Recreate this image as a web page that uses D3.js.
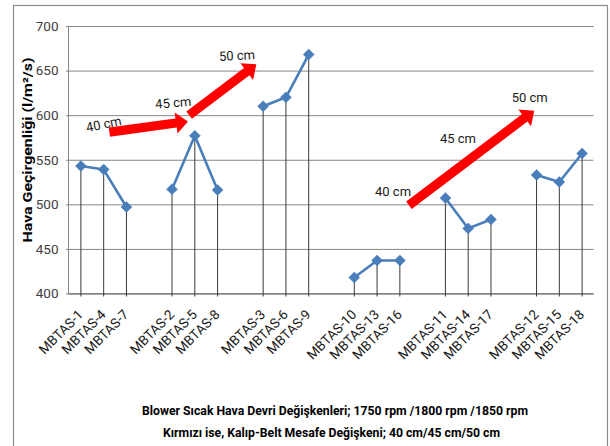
<!DOCTYPE html>
<html>
<head>
<meta charset="utf-8">
<script src="https://cdn.jsdelivr.net/npm/d3@7"></script>
<style>
  html, body { margin: 0; padding: 0; background: #fff; }
  svg { display: block; }
  text { font-family: Roboto, "Noto Sans", sans-serif; }
</style>
</head>
<body>
<svg id="chart" width="610" height="446"></svg>
<script>
// Sample groups (blank entries separate the blower-speed groups)
const categories = [
  "MBTAS-1", "MBTAS-4", "MBTAS-7", "",
  "MBTAS-2", "MBTAS-5", "MBTAS-8", "",
  "MBTAS-3", "MBTAS-6", "MBTAS-9", "",
  "MBTAS-10", "MBTAS-13", "MBTAS-16", "",
  "MBTAS-11", "MBTAS-14", "MBTAS-17", "",
  "MBTAS-12", "MBTAS-15", "MBTAS-18"
];
// Air permeability, l/m²/s
const permeability = [
  543, 539, 497, null,
  517, 577, 516, null,
  610, 620, 668, null,
  418, 437, 437, null,
  507, 473, 483, null,
  533, 525, 557
];
const yTicks = [400, 450, 500, 550, 600, 650, 700];

// Mould-belt distance arrows: [slot, value] from -> to
const distanceArrows = [
  { from: [1.25, 581], to: [4.70, 593] },
  { from: [4.75, 600], to: [7.70, 657] },
  { from: [14.4, 499], to: [19.9, 605] }
];
const distanceLabels = [
  { text: "40 cm", at: [1.0, 590], angle: -12 },
  { text: "45 cm", at: [4.05, 614], angle: -5 },
  { text: "50 cm", at: [6.85, 667], angle: -3 },
  { text: "40 cm", at: [13.7, 515], angle: 0 },
  { text: "45 cm", at: [16.55, 574], angle: 0 },
  { text: "50 cm", at: [19.7, 620], angle: 0 }
];

const yTitle = "Hava Geçirgenliği (l/m²/s)";
const xTitle = [
  "Blower Sıcak Hava Devri Değişkenleri; 1750 rpm /1800 rpm /1850 rpm",
  "Kırmızı ise, Kalıp-Belt Mesafe Değişkeni; 40 cm/45 cm/50 cm"
];

const svg = d3.select("#chart");
const plot = { left: 69.5, right: 593.5, top: 26, bottom: 293.5 };

const x = d3.scaleBand()
  .domain(d3.range(categories.length))
  .range([plot.left, plot.right])
  .padding(0);
const xc = i => x(i) + x.bandwidth() / 2;
// continuous slot scale for annotations
const xs = d3.scaleLinear()
  .domain([-0.5, categories.length - 0.5])
  .range([plot.left, plot.right]);
const y = d3.scaleLinear().domain([400, 700]).range([plot.bottom, plot.top]);

// outer frame
svg.append("rect")
  .attr("x", 13.5).attr("y", 5.5)
  .attr("width", 594).attr("height", 460)
  .attr("fill", "none").attr("stroke", "#8a8a8a").attr("stroke-width", 1.2);

// gridlines + y axis
const yAxis = d3.axisLeft(y)
  .tickValues(yTicks)
  .tickSize(-(plot.right - 68))
  .tickFormat(d3.format("d"));
const gy = svg.append("g").attr("transform", "translate(68,0)").call(yAxis);
gy.select(".domain").attr("stroke", "#868686");
gy.selectAll(".tick line").attr("stroke", "#868686").attr("x1", -2);
gy.selectAll(".tick text")
  .attr("font-size", 13.5).attr("fill", "#404040")
  .attr("x", -9.5);

// x axis baseline
svg.append("line")
  .attr("x1", 68).attr("x2", plot.right)
  .attr("y1", plot.bottom).attr("y2", plot.bottom)
  .attr("stroke", "#868686");

const points = permeability.map((v, i) => ({ i, v })).filter(d => d.v != null);

// drop lines
svg.append("g").selectAll("line").data(points).join("line")
  .attr("x1", d => xc(d.i)).attr("x2", d => xc(d.i))
  .attr("y1", d => y(d.v)).attr("y2", plot.bottom + 3)
  .attr("stroke", "#3a3a3a").attr("stroke-width", 1);

// series line, broken at the blank slots
const line = d3.line()
  .defined(d => d != null)
  .x((d, i) => xc(i))
  .y(d => y(d));
svg.append("path")
  .datum(permeability)
  .attr("d", line)
  .attr("fill", "none")
  .attr("stroke", "#4a7ebb")
  .attr("stroke-width", 2.6)
  .attr("stroke-linejoin", "round");

// diamond markers
svg.append("g").selectAll("path").data(points).join("path")
  .attr("transform", d => `translate(${xc(d.i)},${y(d.v)})`)
  .attr("d", "M0,-5.5L5.5,0L0,5.5L-5.5,0Z")
  .attr("fill", "#4a7ebb")
  .attr("stroke", "#4a7ebb")
  .attr("stroke-width", 0.5);

// category labels
svg.append("g").selectAll("text").data(categories.map((c, i) => ({ c, i })).filter(d => d.c))
  .join("text")
  .attr("transform", d => `translate(${xc(d.i) + 3},${plot.bottom + 22}) rotate(-45)`)
  .attr("text-anchor", "end")
  .attr("font-size", 13.5)
  .attr("fill", "#1a1a1a")
  .text(d => d.c);

// red distance arrows
function arrowPath(a) {
  const t = [xs(a.from[0]), y(a.from[1])];
  const p = [xs(a.to[0]), y(a.to[1])];
  const dx = p[0] - t[0], dy = p[1] - t[1];
  const len = Math.hypot(dx, dy);
  const ux = dx / len, uy = dy / len;
  const nx = -uy, ny = ux;
  const w = 4.6, h = 10.5, L = 12;
  const b = [p[0] - ux * L, p[1] - uy * L];
  const pts = [
    [t[0] + nx * w, t[1] + ny * w],
    [b[0] + nx * w, b[1] + ny * w],
    [b[0] + nx * h, b[1] + ny * h],
    p,
    [b[0] - nx * h, b[1] - ny * h],
    [b[0] - nx * w, b[1] - ny * w],
    [t[0] - nx * w, t[1] - ny * w]
  ];
  return "M" + pts.map(q => q.join(",")).join("L") + "Z";
}
svg.append("g").selectAll("path").data(distanceArrows).join("path")
  .attr("d", arrowPath)
  .attr("fill", "#ff0000");

svg.append("g").selectAll("text").data(distanceLabels).join("text")
  .attr("transform", d => `translate(${xs(d.at[0])},${y(d.at[1])}) rotate(${d.angle})`)
  .attr("text-anchor", "middle")
  .attr("dy", "0.35em")
  .attr("font-size", 13)
  .attr("fill", "#1a1a1a")
  .text(d => d.text);

// axis titles
svg.append("text")
  .attr("transform", "translate(27,150) rotate(-90)")
  .attr("text-anchor", "middle")
  .attr("dy", "0.35em")
  .attr("font-size", 13)
  .attr("font-weight", "bold")
  .attr("textLength", 185)
  .attr("lengthAdjust", "spacingAndGlyphs")
  .attr("fill", "#000")
  .text(yTitle);

const titleWidths = [386, 337];
const titleCenters = [335, 331.5];
svg.append("g").selectAll("text").data(xTitle).join("text")
  .attr("x", (d, i) => titleCenters[i])
  .attr("y", (d, i) => 415 + i * 22)
  .attr("text-anchor", "middle")
  .attr("font-size", 13.5)
  .attr("font-weight", "bold")
  .attr("textLength", (d, i) => titleWidths[i])
  .attr("lengthAdjust", "spacingAndGlyphs")
  .attr("fill", "#000")
  .text(d => d);
</script>
</body>
</html>
